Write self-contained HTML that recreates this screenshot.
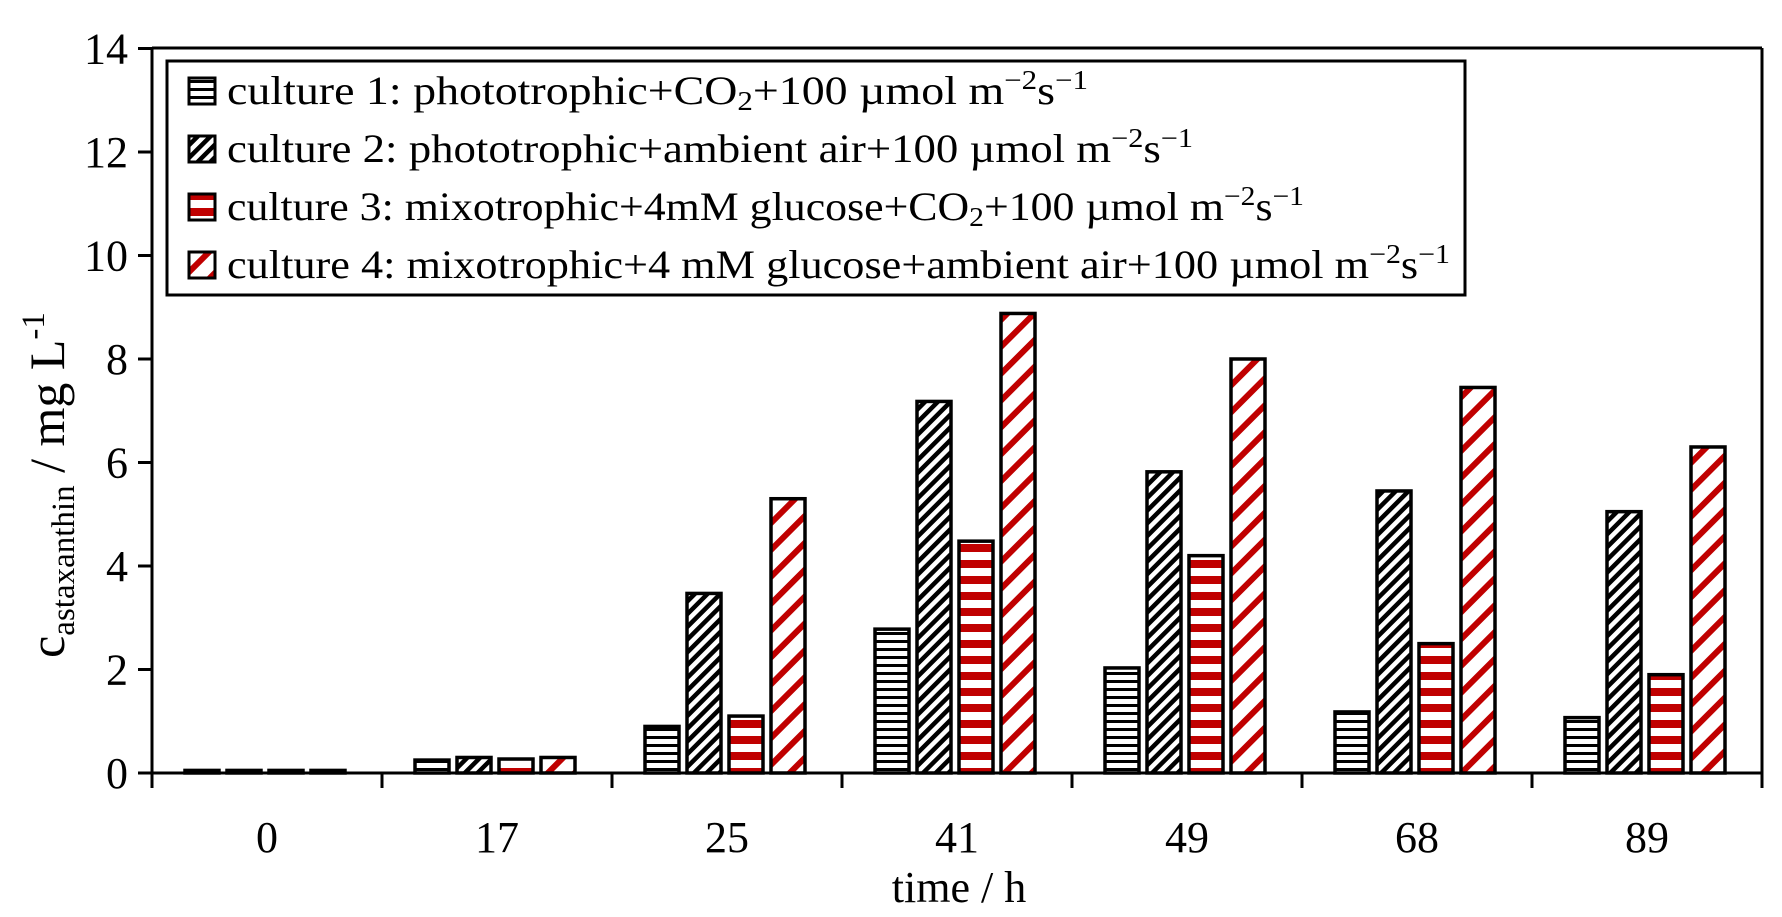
<!DOCTYPE html>
<html><head><meta charset="utf-8"><style>
html,body{margin:0;padding:0;background:#fff}
svg{display:block;font-family:"Liberation Serif",serif}
</style></head><body>
<svg width="1782" height="917" viewBox="0 0 1782 917" xmlns="http://www.w3.org/2000/svg">
<defs>
<pattern id="p1" width="8" height="8" patternUnits="userSpaceOnUse"><rect width="8" height="8" fill="#fff"/><rect y="0" width="8" height="3" fill="#000"/></pattern>
<pattern id="p2" width="9" height="9" patternUnits="userSpaceOnUse" patternTransform="rotate(45)"><rect width="9" height="9" fill="#fff"/><rect width="4.5" height="9" fill="#000"/></pattern>
<pattern id="p3" width="16" height="16" patternUnits="userSpaceOnUse"><rect width="16" height="16" fill="#fff"/><rect y="0" width="16" height="8" fill="#c00000"/></pattern>
<pattern id="p4" width="19" height="19" patternUnits="userSpaceOnUse" patternTransform="rotate(45)"><rect width="19" height="19" fill="#fff"/><rect width="6" height="19" fill="#c00000"/></pattern>
</defs>
<g id="bars" stroke="#000" stroke-width="3.5"></g>
<g stroke="#000" stroke-width="3" fill="none">
<line x1="152" y1="48" x2="1762" y2="48"/>
<line x1="1762" y1="48" x2="1762" y2="788"/>
<line x1="152" y1="48" x2="152" y2="788"/>
<line x1="138" y1="773" x2="1762" y2="773"/>
<g id="ticks"></g>
<rect x="167" y="61" width="1298" height="234" fill="#fff"/>
</g>
<g font-size="40" lengthAdjust="spacingAndGlyphs">
<rect x="189" y="78" width="26" height="26" fill="url(#p1)" stroke="#000" stroke-width="3"/>
<text x="227" y="104" textLength="861" lengthAdjust="spacingAndGlyphs">culture 1: phototrophic+CO<tspan font-size="27" dy="6">2</tspan><tspan dy="-6">+100 µmol m</tspan><tspan font-size="27" dy="-15">−2</tspan><tspan dy="15">s</tspan><tspan font-size="27" dy="-15">−1</tspan></text>
<rect x="189" y="136" width="26" height="26" fill="url(#p2)" stroke="#000" stroke-width="3"/>
<text x="227" y="162" textLength="966" lengthAdjust="spacingAndGlyphs">culture 2: phototrophic+ambient air+100 µmol m<tspan font-size="27" dy="-15">−2</tspan><tspan dy="15">s</tspan><tspan font-size="27" dy="-15">−1</tspan></text>
<rect x="189" y="194" width="26" height="26" fill="url(#p3)" stroke="#000" stroke-width="3"/>
<text x="227" y="220" textLength="1077" lengthAdjust="spacingAndGlyphs">culture 3: mixotrophic+4mM glucose+CO<tspan font-size="27" dy="6">2</tspan><tspan dy="-6">+100 µmol m</tspan><tspan font-size="27" dy="-15">−2</tspan><tspan dy="15">s</tspan><tspan font-size="27" dy="-15">−1</tspan></text>
<rect x="189" y="252" width="26" height="26" fill="url(#p4)" stroke="#000" stroke-width="3"/>
<text x="227" y="278" textLength="1223" lengthAdjust="spacingAndGlyphs">culture 4: mixotrophic+4 mM glucose+ambient air+100 µmol m<tspan font-size="27" dy="-15">−2</tspan><tspan dy="15">s</tspan><tspan font-size="27" dy="-15">−1</tspan></text>
</g>
<g font-size="44" text-anchor="end" id="ylab"></g>
<g font-size="44" text-anchor="middle" id="xlab"></g>
<text x="959" y="902" font-size="44" text-anchor="middle">time / h</text>
<text transform="translate(64,485) rotate(-90)" font-size="50" text-anchor="middle">c<tspan font-size="33" dy="10">astaxanthin</tspan><tspan dy="-10"> / mg L</tspan><tspan font-size="33" dy="-20">-1</tspan></text>
<script>
var ns="http://www.w3.org/2000/svg";
function el(p,t,a,txt){var e=document.createElementNS(ns,t);for(var k in a)e.setAttribute(k,a[k]);if(txt!=null)e.textContent=txt;p.appendChild(e);return e;}
var d=[[0.05,0.05,0.05,0.05],[0.25,0.3,0.27,0.3],[0.9,3.47,1.1,5.3],[2.78,7.18,4.48,8.88],[2.03,5.82,4.2,8.0],[1.18,5.45,2.5,7.45],[1.07,5.05,1.9,6.3]];
var labs=["0","17","25","41","49","68","89"];
var g=document.getElementById("bars"),t=document.getElementById("ticks"),yl=document.getElementById("ylab"),xl=document.getElementById("xlab");
for(var i=0;i<7;i++){var c=152+i*230;
for(var j=0;j<4;j++){var h=d[i][j]*51.75;el(g,"rect",{x:c+33+j*42,y:773-h,width:34,height:h,fill:"url(#p"+(j+1)+")"});}
el(t,"line",{x1:c+230,y1:773,x2:c+230,y2:788});
el(xl,"text",{x:c+115,y:852},labs[i]);}
for(var v=0;v<=14;v+=2){var y=773-v*51.75;el(t,"line",{x1:138,y1:y,x2:152,y2:y});el(yl,"text",{x:128,y:y+15},String(v));}
</script>
</svg>
</body></html>
